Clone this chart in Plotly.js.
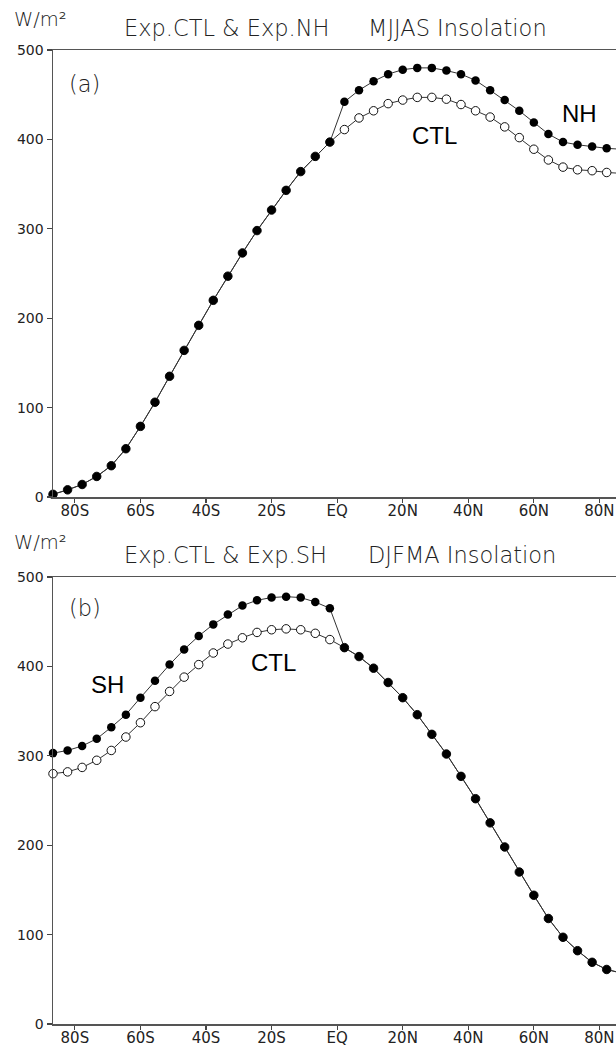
<!DOCTYPE html>
<html>
<head>
<meta charset="utf-8">
<script src="https://cdn.plot.ly/plotly-3.0.1.min.js"></script>
<style>html,body{margin:0;padding:0;background:#fff;}#chart{width:616px;height:1045px;}</style>
</head>
<body>
<div id="chart"></div>
<script>
// Latitudes (Gaussian grid, degrees; negative = south)
const lat = [-86.67,-82.22,-77.78,-73.33,-68.89,-64.44,-60.00,-55.56,-51.11,-46.67,
             -42.22,-37.78,-33.33,-28.89,-24.44,-20.00,-15.56,-11.11,-6.67,-2.22,
             2.22,6.67,11.11,15.56,20.00,24.44,28.89,33.33,37.78,42.22,
             46.67,51.11,55.56,60.00,64.44,68.89,73.33,77.78,82.22,86.67];

// Panel (a): MJJAS insolation (W/m2)
const ctlMJJAS = [3,8,14,23,35,54,79,106,135,164,192,220,247,273,298,321,343,364,381,397,
                  411,424,432,440,444,447,447,445,439,432,425,414,402,389,377,369,366,365,363,362];
const nhMJJAS  = [3,8,14,23,35,54,79,106,135,164,192,220,247,273,298,321,343,364,381,397,
                  442,455,465,473,478,480,480,477,473,466,455,444,432,419,406,397,394,392,390,389];

// Panel (b): DJFMA insolation (W/m2)
const ctlDJFMA = [280,282,287,295,306,321,337,355,372,388,402,415,425,432,438,441,442,441,437,430,
                  421,411,398,382,365,346,324,302,277,252,225,198,170,144,118,97,82,69,61,57];
const shDJFMA  = [303,306,311,319,332,346,365,384,402,419,434,447,458,468,474,477,478,477,472,465,
                  421,411,398,382,365,346,324,302,277,252,225,198,170,144,118,97,82,69,61,57];

const xTickVals = [-80,-60,-40,-20,0,20,40,60,80];
const xTickText = ['80S','60S','40S','20S','EQ','20N','40N','60N','80N'];
const yTickVals = [0,100,200,300,400,500];

const W = 616, H = 1045;
const M = {l:53, r:0, t:50, b:21};
const pw = W - M.l - M.r, ph = H - M.t - M.b;
function px(x){ return (x - M.l)/pw; }
function py(y){ return (H - M.b - y)/ph; }

const lineCol = '#333';
function ctlTrace(y, xa, ya){
  return {x: lat, y: y, xaxis: xa, yaxis: ya, type:'scatter', mode:'lines+markers',
    line:{color:lineCol, width:1}, cliponaxis:false,
    marker:{symbol:'circle', size:8.5, color:'#fff', line:{color:'#111', width:1}}, hoverinfo:'x+y'};
}
function expTrace(y, xa, ya){
  return {x: lat, y: y, xaxis: xa, yaxis: ya, type:'scatter', mode:'lines+markers',
    line:{color:lineCol, width:1}, cliponaxis:false,
    marker:{symbol:'circle', size:8.5, color:'#000', line:{color:'#000', width:0}}, hoverinfo:'x+y'};
}

const data = [
  ctlTrace(ctlMJJAS,'x','y'), expTrace(nhMJJAS,'x','y'),
  ctlTrace(ctlDJFMA,'x2','y2'), expTrace(shDJFMA,'x2','y2')
];

const axFont = {family:'DejaVu Sans, sans-serif', size:14, color:'#222'};
function xAxis(anchor){
  return {anchor: anchor, range:[-86.67, 85.06], tickvals:xTickVals, ticktext:xTickText,
    ticks:'outside', ticklen:4, tickwidth:1.2, tickcolor:'#444', ticklabelstandoff:-5,
    showline:true, linecolor:'#555', linewidth:1.5, mirror:true,
    showgrid:false, zeroline:false, tickfont:{family:'DejaVu Sans, sans-serif', size:15, color:'#222'}};
}
function yAxis(anchor, dom){
  return {anchor: anchor, domain: dom, range:[0,500], tickvals:yTickVals,
    ticks:'outside', ticklen:5, tickwidth:1.2, tickcolor:'#444',
    showline:true, linecolor:'#555', linewidth:1.5, mirror:false,
    showgrid:false, zeroline:false, tickfont:axFont};
}

const titleFont = {family:'DejaVu Sans, sans-serif', size:22.5, color:'#222', weight:300};
const unitFont = {family:'DejaVu Sans, sans-serif', size:19.5, color:'#222', weight:300};
const panelFont = {family:'DejaVu Sans, sans-serif', size:22.5, color:'#222', weight:300};
const lblFont = {family:'Liberation Sans, Arial, sans-serif', size:24, color:'#000'};
function ann(text, x, y, font, xanchor){
  return {text:text, xref:'paper', yref:'paper', x:px(x), y:py(y), xanchor:xanchor||'center',
    yanchor:'middle', showarrow:false, font:font};
}

const annotations = [
  ann('W/m²', 12, 19, unitFont, 'left'),
  ann('Exp.CTL &amp; Exp.NH', 122, 28, titleFont, 'left'),
  ann('MJJAS Insolation', 366, 28, titleFont, 'left'),
  ann('(a)', 67, 84, panelFont, 'left'),
  ann('NH', 579, 114, lblFont),
  ann('CTL', 434, 135, lblFont),
  ann('W/m²', 12, 542, unitFont, 'left'),
  ann('Exp.CTL &amp; Exp.SH', 122, 555, titleFont, 'left'),
  ann('DJFMA Insolation', 366, 555, titleFont, 'left'),
  ann('(b)', 67, 608, panelFont, 'left'),
  ann('SH', 107, 684, lblFont),
  ann('CTL', 273, 662, lblFont)
];

const layout = {
  width: W, height: H, margin: M, showlegend:false,
  paper_bgcolor:'#fff', plot_bgcolor:'#fff',
  xaxis: xAxis('y'), yaxis: yAxis('x', [py(497), 1]),
  xaxis2: xAxis('y2'), yaxis2: yAxis('x2', [0, py(577)]),
  annotations: annotations
};

Plotly.newPlot('chart', data, layout, {displayModeBar:false, staticPlot:true});
</script>
</body>
</html>
